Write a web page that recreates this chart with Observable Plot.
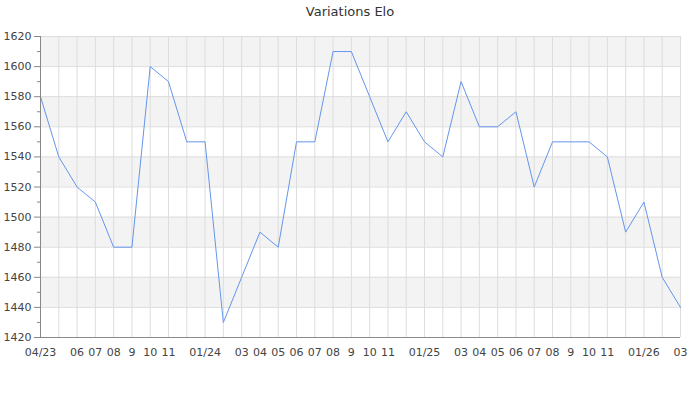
<!DOCTYPE html>
<html>
<head>
<meta charset="utf-8">
<script src="https://cdn.jsdelivr.net/npm/d3@7"></script>
<script src="https://cdn.jsdelivr.net/npm/@observablehq/plot@0.6"></script>
<style>
  body { margin: 0; background: #fff; font-family: "DejaVu Sans", sans-serif; }
  #title { width: 700px; height: 24px; line-height: 24px; text-align: center; font-size: 13px; color: #333; }
</style>
</head>
<body>
<div id="title">Variations Elo</div>
<div id="chart"></div>
<script>
const months = [
  "2023-04","2023-05","2023-06","2023-07","2023-08","2023-09","2023-10","2023-11","2023-12",
  "2024-01","2024-02","2024-03","2024-04","2024-05","2024-06","2024-07","2024-08","2024-09","2024-10","2024-11","2024-12",
  "2025-01","2025-02","2025-03","2025-04","2025-05","2025-06","2025-07","2025-08","2025-09","2025-10","2025-11","2025-12",
  "2026-01","2026-02","2026-03"
];
const elo = [
  1580,1540,1520,1510,1480,1480,1600,1590,1550,
  1550,1430,1460,1490,1480,1550,1550,1610,1610,1580,1550,1570,
  1550,1540,1590,1560,1560,1570,1520,1550,1550,1550,1540,1490,
  1510,1460,1440
];
const tickLabels = [
  "04/23","","06","07","08","9","10","11","",
  "01/24","","03","04","05","06","07","08","9","10","11","",
  "01/25","","03","04","05","06","07","08","9","10","11","",
  "01/26","","03"
];
const yMajor = [1420,1440,1460,1480,1500,1520,1540,1560,1580,1600,1620];
const yMinor = [1430,1450,1470,1490,1510,1530,1550,1570,1590,1610];
const bandLow = [1440,1480,1520,1560,1600];

const data = months.map((m, i) => ({month: m, elo: elo[i]}));
const labelOf = new Map(months.map((m, i) => [m, tickLabels[i]]));
const bands = bandLow.map(b => ({y1: b, y2: b + 20}));

const chart = Plot.plot({
  width: 700,
  height: 376,
  marginTop: 12,
  marginBottom: 63,
  marginLeft: 40,
  marginRight: 20,
  style: {fontFamily: "DejaVu Sans, sans-serif", fontSize: "11px", color: "#444", background: "#fff"},
  x: {type: "point", domain: months, padding: 0, round: false},
  y: {domain: [1420, 1620]},
  marks: [
    Plot.rect(bands, {y1: "y1", y2: "y2", fill: "#f3f3f3"}),
    Plot.gridX(months, {stroke: "#dddddd", strokeOpacity: 1}),
    Plot.gridY(yMajor, {stroke: "#dddddd", strokeOpacity: 1}),
    Plot.axisY(yMinor, {tickSize: 3, tickFormat: () => "", stroke: "#888", label: null}),
    Plot.axisY(yMajor, {tickSize: 6, tickPadding: 3, tickFormat: d => String(d), stroke: "#888", fill: "#444", label: null}),
    Plot.axisX(months, {tickSize: 0, tickPadding: 11, tickFormat: d => labelOf.get(d), fill: "#444", label: null}),
    Plot.line(data, {x: "month", y: "elo", stroke: "#6495ed", strokeWidth: 1}),
    Plot.ruleX([months[0]], {stroke: "#888"}),
    Plot.ruleY([1420], {stroke: "#888"})
  ]
});
document.getElementById("chart").appendChild(chart);
</script>
</body>
</html>
